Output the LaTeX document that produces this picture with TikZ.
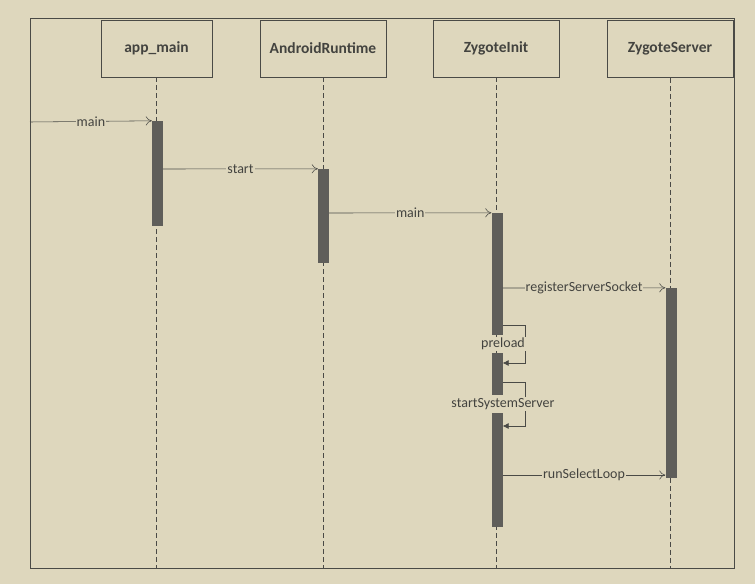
\documentclass[tikz,border=0pt]{standalone}
\usepackage{fontspec}
\setmainfont{Carlito}
\usetikzlibrary{positioning,arrows.meta}
\definecolor{paper}{HTML}{DED7BD}
\definecolor{ink}{HTML}{4A4A46}
\definecolor{barfill}{HTML}{5F5E5A}

\begin{document}
\begin{tikzpicture}[x=1pt, y=-1pt, obj/.style={rectangle, draw=ink, line width=0.7pt, minimum height=57pt, minimum width=126pt, font=\fontsize{15.5}{18}\selectfont\bfseries, text=ink!90!black}, life/.style={draw=ink, dashed, line width=0.6pt, dash pattern=on 5pt off 3pt}, act/.style={rectangle, fill=barfill, draw=none, minimum width=11pt, inner sep=0pt}, msg/.style={draw=ink, line width=0.55pt, -{To[length=6pt,width=9pt]}}, selfmsg/.style={draw=ink, line width=0.55pt, -{Latex[length=6pt,width=6pt]}}, lbl/.style={fill=paper, inner sep=1pt, font=\fontsize{14}{16}\selectfont, text=ink!90!black}]
  \fill[paper] (0,0) rectangle (755,584);
  \draw[ink, line width=0.8pt] (30,18) rectangle (734,568);

  \node[obj, minimum width=111pt] (app) at (156.5,48.5) {app\_main};
  \node[obj] (art) at (323,48.5) {AndroidRuntime};
  \node[obj] (zinit) at (496,48.5) {ZygoteInit};
  \node[obj] (zserver) at (670,49) {ZygoteServer};

  \draw[life] (app.south) -- (app.south |- 0,568);
  \draw[life] (art.south) -- (art.south |- 0,568);
  \draw[life] (zinit.south) -- (zinit.south |- 0,568);
  \draw[life] (zserver.south) -- (zserver.south |- 0,568);

  \node[act, minimum height=105pt] (app-act) at (157.5,173.5) {};
  \node[act, minimum height=94pt] (art-act) at (323.5,216) {};
  \node[act, minimum height=122pt] (zinit-act1) at (497,274) {};
  \node[act, minimum height=42pt] (zinit-act2) at (497,374) {};
  \node[act, minimum height=114pt] (zinit-act3) at (497,470) {};
  \node[act, minimum height=190pt] (zserver-act) at (671,383) {};

  \coordinate (caller) at (30,122);
  \draw[msg] (caller) -- (app-act.north west) node[lbl, midway] {main};
  \draw[msg] (app-act.east |- 0,169) -- (art-act.north west) node[lbl, midway] {start};
  \draw[msg] (art-act.east |- 0,213) -- (zinit-act1.north west) node[lbl, midway] {main};
  \draw[msg] (zinit-act1.east |- 0,288) -- (zserver-act.north west) node[lbl, midway] {registerServerSocket};
  \draw[selfmsg] (zinit-act1.east |- 0,325) -- ++(23,0) |- (zinit-act2.east |- 0,363);
  \node[lbl] (preload) at (503,344) {preload};
  \draw[selfmsg] (zinit-act2.east |- 0,382) -- ++(23,0) |- (zinit-act3.east |- 0,426);
  \node[lbl] (startss) at (503,404) {startSystemServer};
  \draw[msg] (zinit-act3.east |- 0,475) -- (zserver-act.west |- 0,475) node[lbl, midway] {runSelectLoop};
\end{tikzpicture}
\end{document}
